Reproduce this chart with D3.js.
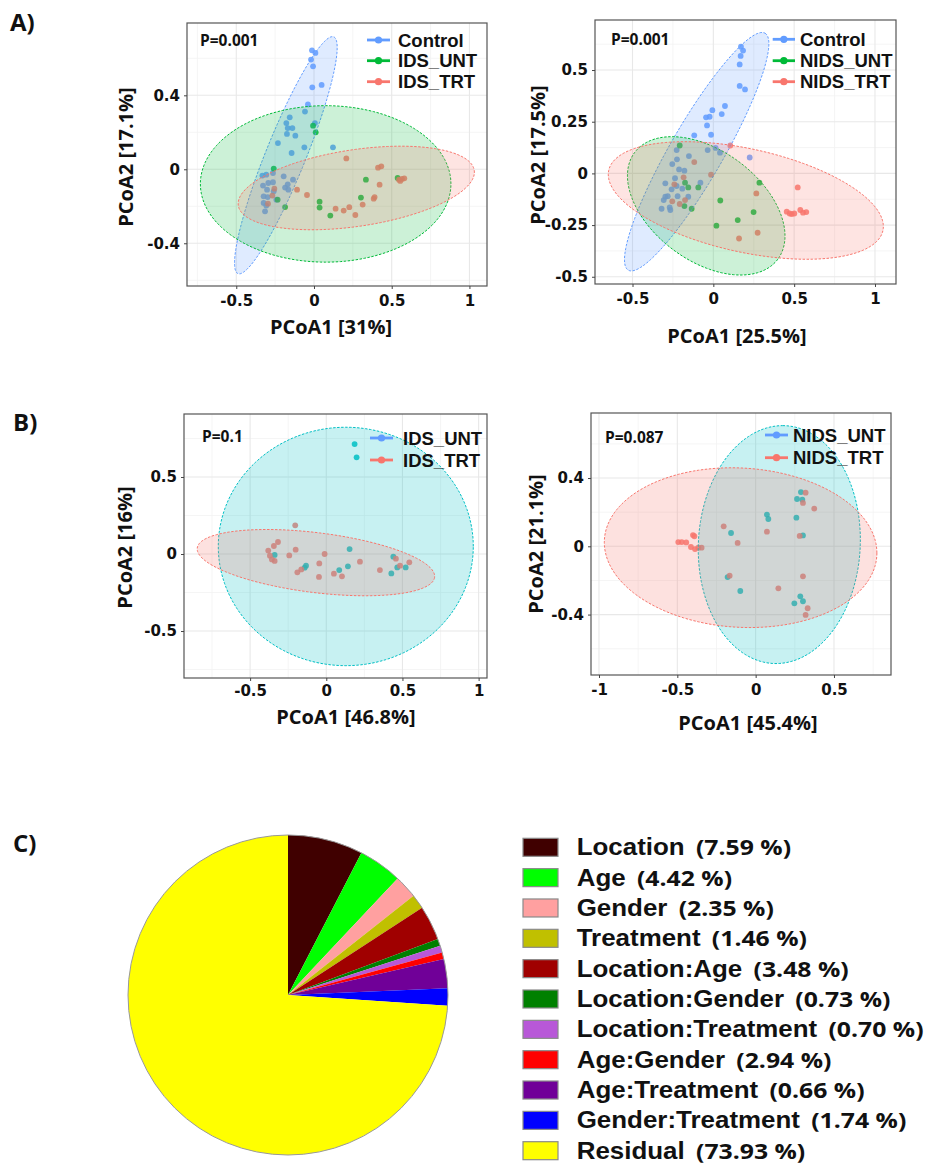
<!DOCTYPE html>
<html><head><meta charset="utf-8">
<script src="https://cdn.jsdelivr.net/npm/d3@7"></script>
<style>body{margin:0;background:#fff} svg{display:block}</style>
</head><body>
<svg id="fig" width="931" height="1167"></svg>
<script>
// ================= DATA =================
// Panel A left : Control vs IDS_UNT vs IDS_TRT
const aLeftGroups = ["Control", "IDS_UNT", "IDS_TRT"];
const aLeftControl = [[-0.013,0.643],[0.009,0.629],[-0.019,0.593],[-0.006,0.557],[-0.011,0.443],[0.049,0.456],[-0.039,0.351],[-0.058,0.312],[0.006,0.250],[-0.156,0.281],[-0.178,0.250],[-0.139,0.223],[-0.169,0.223],[-0.174,0.191],[-0.120,0.182],[-0.232,0.142],[-0.062,0.119],[-0.144,0.088],[0.122,0.119],[-0.332,-0.034],[-0.307,-0.029],[-0.264,-0.020],[-0.195,-0.038],[-0.135,-0.056],[-0.328,-0.088],[-0.294,-0.074],[-0.302,-0.110],[-0.264,-0.070],[-0.186,-0.099],[-0.169,-0.081],[-0.324,-0.146],[-0.298,-0.150],[-0.324,-0.182],[-0.307,-0.196],[-0.315,-0.227],[-0.242,-0.164],[-0.165,-0.110],[-0.259,-0.119]];
const aLeftUNT = [[-0.006,0.236],[0.011,0.200],[-0.259,0.004],[-0.234,-0.164],[-0.186,-0.204],[0.334,-0.056],[0.538,-0.047],[0.302,-0.153],[0.036,-0.175],[0.036,-0.207],[0.105,-0.250]];
const aLeftTRT = [[0.208,0.059],[0.412,0.009],[0.433,0.016],[0.422,-0.083],[0.547,-0.056],[0.566,-0.052],[0.581,-0.049],[0.555,-0.063],[-0.255,-0.105],[-0.268,-0.142],[-0.109,-0.110],[-0.045,-0.139],[-0.296,-0.186],[0.139,-0.213],[0.191,-0.223],[0.227,-0.205],[0.266,-0.247],[0.313,-0.191],[0.384,-0.159],[0.390,-0.150]];
// ellipses: centre c, conjugate semi-axis vectors u, v (data units)
const aLeftEllipses = [
  {group:"Control", c:[-0.181,0.076], u:[0.308,0.640], v:[0.119,-0.041]},
  {group:"IDS_UNT", c:[0.075,-0.079], u:[0.806,0], v:[0,0.423]},
  {group:"IDS_TRT", c:[0.272,-0.101], u:[0.759,0.095], v:[0.036,-0.205]}
];
const aLeftXTicks = [-0.5, 0, 0.5, 1];
const aLeftYTicks = [-0.4, 0, 0.4];

// Panel A right : Control vs NIDS_UNT vs NIDS_TRT
const aRightGroups = ["Control", "NIDS_UNT", "NIDS_TRT"];
const aRightControl = [[0.171,0.613],[0.184,0.594],[0.169,0.568],[0.163,0.527],[0.163,0.423],[0.196,0.406],[0.072,0.326],[-0.006,0.306],[0.052,0.287],[-0.045,0.271],[-0.023,0.274],[-0.039,0.232],[-0.014,0.187],[-0.118,0.184],[-0.035,0.113],[0.014,0.123],[0.041,0.100],[-0.151,0.084],[-0.227,0.113],[-0.225,0.068],[-0.254,0.045],[-0.212,0.019],[-0.179,0.013],[-0.237,-0.023],[-0.297,-0.048],[-0.227,-0.061],[-0.258,-0.077],[-0.192,-0.074],[-0.080,-0.045],[-0.155,-0.113],[-0.297,-0.113],[-0.307,-0.129],[-0.282,-0.110],[-0.320,-0.171],[-0.270,-0.165],[-0.266,-0.177],[-0.221,-0.110],[0.225,0.077]];
const aRightUNT = [[-0.208,0.135],[-0.175,-0.045],[-0.155,-0.068],[-0.093,-0.068],[-0.179,-0.158],[-0.134,-0.171],[0.043,-0.131],[0.285,-0.045],[0.249,-0.187],[0.151,-0.226],[0.019,-0.253]];
const aRightTRT = [[0.105,0.135],[-0.118,0.055],[-0.014,-0.006],[-0.184,-0.019],[-0.241,-0.053],[-0.254,-0.135],[-0.208,-0.148],[-0.175,-0.129],[0.266,-0.097],[0.274,-0.287],[0.159,-0.315],[0.522,-0.068],[0.454,-0.185],[0.472,-0.194],[0.501,-0.194],[0.538,-0.177],[0.555,-0.190],[0.575,-0.187],[0.485,-0.197]];
const aRightEllipses = [
  {group:"Control", c:[-0.103,0.105], u:[0.423,0.573], v:[0.143,-0.065]},
  {group:"NIDS_UNT", c:[-0.044,-0.157], u:[0.443,-0.258], v:[-0.203,-0.213]},
  {group:"NIDS_TRT", c:[0.201,-0.131], u:[0.848,-0.146], v:[-0.069,-0.244]}
];
const aRightXTicks = [-0.5, 0, 0.5, 1];
const aRightYTicks = [-0.5, -0.25, 0, 0.25, 0.5];

// Panel B left : IDS_UNT vs IDS_TRT
const bLeftGroups = ["IDS_UNT", "IDS_TRT"];
const bLeftUNT = [[0.186,0.714],[0.199,0.628],[-0.339,-0.006],[-0.133,-0.076],[-0.142,-0.089],[0.153,0.032],[0.142,-0.080],[0.085,-0.104],[0.440,-0.017],[0.466,-0.087],[0.521,-0.087],[0.427,-0.126]];
const bLeftTRT = [[-0.204,0.186],[-0.317,0.078],[-0.344,0.052],[-0.381,0.022],[-0.370,-0.011],[-0.357,-0.035],[-0.339,-0.045],[-0.243,-0.009],[-0.201,0.028],[-0.011,0.000],[-0.046,-0.061],[-0.164,-0.100],[-0.190,-0.119],[-0.048,-0.149],[0.050,-0.128],[0.103,-0.145],[0.221,-0.050],[0.352,-0.104],[0.457,-0.030],[0.484,-0.076],[0.545,-0.054]];
const bLeftEllipses = [
  {group:"IDS_UNT", c:[0.128,0.049], u:[0.837,0], v:[0,0.774]},
  {group:"IDS_TRT", c:[-0.068,-0.056], u:[0.779,-0.095], v:[-0.024,-0.193]}
];
const bLeftXTicks = [-0.5, 0, 0.5, 1];
const bLeftYTicks = [-0.5, 0, 0.5];

// Panel B right : NIDS_UNT vs NIDS_TRT
const bRightGroups = ["NIDS_UNT", "NIDS_TRT"];
const bRightUNT = [[0.289,0.318],[0.264,0.277],[0.298,0.273],[0.072,0.186],[0.081,0.160],[0.260,0.168],[-0.157,0.078],[0.302,0.064],[-0.179,-0.180],[-0.098,-0.262],[0.285,-0.293],[0.302,-0.322],[0.247,-0.334]];
const bRightTRT = [[0.319,0.314],[0.302,0.254],[0.374,0.221],[-0.204,0.117],[0.072,0.086],[0.281,0.061],[-0.115,0.020],[-0.400,0.066],[-0.391,0.059],[-0.494,0.025],[-0.472,0.025],[-0.443,0.023],[-0.413,-0.004],[-0.387,-0.016],[-0.366,-0.008],[-0.345,-0.008],[-0.166,-0.172],[0.302,-0.176],[0.145,-0.246],[0.332,-0.363],[0.319,-0.402]];
const bRightEllipses = [
  {group:"NIDS_UNT", c:[0.151,0.010], u:[0.021,0.697], v:[0.517,0]},
  {group:"NIDS_TRT", c:[-0.096,-0.008], u:[0.870,-0.031], v:[0,0.467]}
];
const bRightXTicks = [-1, -0.5, 0, 0.5];
const bRightYTicks = [-0.4, 0, 0.4];

// Panel C : variance partition pie
const pieLabels = ["Location","Age","Gender","Treatment","Location:Age","Location:Gender","Location:Treatment","Age:Gender","Age:Treatment","Gender:Treatment","Residual"];
const legendPercents = ["(7.59 %)","(4.42 %)","(2.35 %)","(1.46 %)","(3.48 %)","(0.73 %)","(0.70 %)","(2.94 %)","(0.66 %)","(1.74 %)","(73.93 %)"];
const pieShares = [7.59, 4.42, 2.35, 1.46, 3.48, 0.73, 0.70, 0.66, 2.94, 1.74, 73.93]; // slice sizes as drawn
const pieColors = ["#400000","#00ff00","#ffa0a0","#c0c000","#a00000","#008000","#b858d8","#ff0000","#700098","#0000ff","#ffff00"];

// ================= STYLE =================
const COL = {blue:"#619CFF", green:"#00BA38", red:"#F8766D", teal:"#00BFC4"};
const TXT = "#111";
const svg = d3.select("#fig");
const fmt = d => String(d);

function ellipsePath(e, x, y) {
  const n = 160;
  const pts = d3.range(n + 1).map(i => {
    const t = 2 * Math.PI * i / n;
    return [x(e.c[0] + e.u[0] * Math.cos(t) + e.v[0] * Math.sin(t)),
            y(e.c[1] + e.u[1] * Math.cos(t) + e.v[1] * Math.sin(t))];
  });
  return d3.line()(pts);
}

let clipId = 0;
function drawScatter(L) {
  const g = svg.append("g");
  const x = d3.scaleLinear().domain(L.xDomain).range([L.left, L.right]);
  const y = d3.scaleLinear().domain(L.yDomain).range([L.bottom, L.top]);
  const id = "clip" + (clipId++);
  g.append("clipPath").attr("id", id).append("rect")
    .attr("x", L.left).attr("y", L.top).attr("width", L.right - L.left).attr("height", L.bottom - L.top);
  const plot = g.append("g").attr("clip-path", `url(#${id})`);

  // grid
  const minor = (ticks, dom) => {
    const s = ticks[1] - ticks[0], out = [];
    for (let v = ticks[0] - s / 2; v <= dom[1]; v += s) if (v >= dom[0]) out.push(v);
    return out;
  };
  plot.selectAll(".mx").data(minor(L.xTicks, L.xDomain)).join("line")
    .attr("x1", d => x(d)).attr("x2", d => x(d)).attr("y1", L.top).attr("y2", L.bottom)
    .attr("stroke", "#f3f3f3").attr("stroke-width", 0.8);
  plot.selectAll(".my").data(minor(L.yTicks, L.yDomain)).join("line")
    .attr("y1", d => y(d)).attr("y2", d => y(d)).attr("x1", L.left).attr("x2", L.right)
    .attr("stroke", "#f3f3f3").attr("stroke-width", 0.8);
  plot.selectAll(".gx").data(L.xTicks).join("line")
    .attr("x1", d => x(d)).attr("x2", d => x(d)).attr("y1", L.top).attr("y2", L.bottom)
    .attr("stroke", "#e8e8e8").attr("stroke-width", 1.1);
  plot.selectAll(".gy").data(L.yTicks).join("line")
    .attr("y1", d => y(d)).attr("y2", d => y(d)).attr("x1", L.left).attr("x2", L.right)
    .attr("stroke", "#e8e8e8").attr("stroke-width", 1.1);

  // points
  L.series.forEach(s => {
    plot.append("g").selectAll("circle").data(s.values).join("circle")
      .attr("cx", d => x(d[0])).attr("cy", d => y(d[1])).attr("r", 2.9)
      .attr("fill", s.color).attr("fill-opacity", 0.85);
  });
  // ellipses (drawn over the points)
  L.ellipses.forEach(e => {
    const c = L.series.find(s => s.name === e.group).color;
    plot.append("path").attr("d", ellipsePath(e, x, y))
      .attr("fill", c).attr("fill-opacity", L.ellipseAlpha)
      .attr("stroke", c).attr("stroke-width", 1).attr("stroke-dasharray", "2.5,1.5");
  });

  // frame
  g.append("rect").attr("x", L.left).attr("y", L.top).attr("width", L.right - L.left).attr("height", L.bottom - L.top)
    .attr("fill", "none").attr("stroke", "#555").attr("stroke-width", 1.2);

  // axes
  const styleAxis = a => {
    a.select(".domain").remove();
    a.selectAll("line").attr("stroke", "#444");
    a.selectAll("text").attr("font-family", "DejaVu Sans").attr("font-weight", "bold")
      .attr("font-size", 15).attr("fill", TXT);
  };
  g.append("g").attr("transform", `translate(0,${L.bottom})`)
    .call(d3.axisBottom(x).tickValues(L.xTicks).tickSize(3).tickPadding(L.xPad).tickFormat(fmt)).call(styleAxis);
  g.append("g").attr("transform", `translate(${L.left},0)`)
    .call(d3.axisLeft(y).tickValues(L.yTicks).tickSize(3).tickPadding(4).tickFormat(fmt)).call(styleAxis);

  // titles
  g.append("text").attr("x", L.xTitle[0]).attr("y", L.xTitle[1]).attr("text-anchor", "middle")
    .attr("font-family", "Open Sans").attr("font-weight", "bold").attr("font-size", 20).attr("fill", TXT).text(L.xLabel);
  g.append("text").attr("transform", `translate(${L.yTitle[0]},${L.yTitle[1]}) rotate(-90)`).attr("text-anchor", "middle")
    .attr("font-family", "Open Sans").attr("font-weight", "bold").attr("font-size", 20).attr("fill", TXT).text(L.yLabel);
  g.append("text").attr("x", L.pPos[0]).attr("y", L.pPos[1])
    .attr("font-family", "Open Sans").attr("font-weight", "bold").attr("font-size", 15.5).attr("fill", TXT).text(L.pText);

  // legend
  const lg = g.append("g");
  L.legend.items.forEach((it, i) => {
    const yy = L.legend.y[i];
    lg.append("line").attr("x1", L.legend.x0).attr("x2", L.legend.x1).attr("y1", yy).attr("y2", yy)
      .attr("stroke", it.color).attr("stroke-width", 2.8);
    lg.append("circle").attr("cx", (L.legend.x0 + L.legend.x1) / 2).attr("cy", yy).attr("r", 3.6).attr("fill", it.color);
    lg.append("text").attr("x", L.legend.tx).attr("y", yy + 6.5)
      .attr("font-family", "Liberation Sans").attr("font-weight", "bold").attr("font-size", 18.5).attr("fill", TXT).text(it.name);
  });
}

// ---- Panel A left
drawScatter({
  left:187, right:487, top:23, bottom:286, xDomain:[-0.817,1.113], yDomain:[-0.631,0.791],
  xTicks:aLeftXTicks, yTicks:aLeftYTicks, xPad:6, ellipseAlpha:0.2,
  series:[{name:aLeftGroups[0], values:aLeftControl, color:COL.blue},
          {name:aLeftGroups[1], values:aLeftUNT, color:COL.green},
          {name:aLeftGroups[2], values:aLeftTRT, color:COL.red}],
  ellipses:aLeftEllipses,
  xLabel:"PCoA1 [31%]", xTitle:[331,334], yLabel:"PCoA2 [17.1%]", yTitle:[133,157],
  pText:"P=0.001", pPos:[200,46],
  legend:{x0:367, x1:390, tx:398, y:[40,60.7,81.7],
          items:[{name:aLeftGroups[0], color:COL.blue},{name:aLeftGroups[1], color:COL.green},{name:aLeftGroups[2], color:COL.red}]}
});
// ---- Panel A right
drawScatter({
  left:595, right:896, top:20, bottom:284, xDomain:[-0.732,1.130], yDomain:[-0.535,0.742],
  xTicks:aRightXTicks, yTicks:aRightYTicks, xPad:6, ellipseAlpha:0.2,
  series:[{name:aRightGroups[0], values:aRightControl, color:COL.blue},
          {name:aRightGroups[1], values:aRightUNT, color:COL.green},
          {name:aRightGroups[2], values:aRightTRT, color:COL.red}],
  ellipses:aRightEllipses,
  xLabel:"PCoA1 [25.5%]", xTitle:[737,342.5], yLabel:"PCoA2 [17.5%]", yTitle:[545,155],
  pText:"P=0.001", pPos:[611,45],
  legend:{x0:772.7, x1:795, tx:800, y:[39.3,60.7,81.7],
          items:[{name:aRightGroups[0], color:COL.blue},{name:aRightGroups[1], color:COL.green},{name:aRightGroups[2], color:COL.red}]}
});
// ---- Panel B left
drawScatter({
  left:184, right:487, top:414, bottom:678, xDomain:[-0.934,1.055], yDomain:[-0.805,0.909],
  xTicks:bLeftXTicks, yTicks:bLeftYTicks, xPad:4, ellipseAlpha:0.22,
  series:[{name:bLeftGroups[0], values:bLeftUNT, color:COL.teal},
          {name:bLeftGroups[1], values:bLeftTRT, color:COL.red}],
  ellipses:bLeftEllipses,
  xLabel:"PCoA1 [46.8%]", xTitle:[346,723.5], yLabel:"PCoA2 [16%]", yTitle:[131.5,547.5],
  pText:"P=0.1", pPos:[202,441.5],
  legend:{x0:370, x1:393, tx:403, y:[438,460],
          items:[{name:bLeftGroups[0], color:COL.blue},{name:bLeftGroups[1], color:COL.red}]}
});
// ---- Panel B right
drawScatter({
  left:591, right:891, top:413, bottom:675, xDomain:[-1.051,0.864], yDomain:[-0.754,0.781],
  xTicks:bRightXTicks, yTicks:bRightYTicks, xPad:6, ellipseAlpha:0.22,
  series:[{name:bRightGroups[0], values:bRightUNT, color:COL.teal},
          {name:bRightGroups[1], values:bRightTRT, color:COL.red}],
  ellipses:bRightEllipses,
  xLabel:"PCoA1 [45.4%]", xTitle:[748,729.5], yLabel:"PCoA2 [21.1%]", yTitle:[543,544],
  pText:"P=0.087", pPos:[605,442.7],
  legend:{x0:765, x1:788, tx:793, y:[435,457.7],
          items:[{name:bRightGroups[0], color:COL.blue},{name:bRightGroups[1], color:COL.red}]}
});

// ---- Panel labels
[["A)",10,31],["B)",13,431],["C)",13,852]].forEach(([t,px,py]) =>
  svg.append("text").attr("x",px).attr("y",py).attr("font-family","Open Sans").attr("font-weight","bold")
    .attr("font-size",24).attr("fill",TXT).text(t));

// ---- Panel C pie
const pieG = svg.append("g").attr("transform","translate(288,995)");
const arcs = d3.pie().sort(null).value(d => d)(pieShares);
const arc = d3.arc().innerRadius(0).outerRadius(160);
pieG.selectAll("path").data(arcs).join("path").attr("d", arc).attr("fill", (d,i) => pieColors[i]);
pieG.append("circle").attr("r",160).attr("fill","none").attr("stroke","#999").attr("stroke-width",1);

// ---- Panel C legend
const rowY = i => 847.3 + i * 30.34;
const lgC = svg.append("g");
pieLabels.forEach((lab, i) => {
  lgC.append("rect").attr("x",523).attr("y",rowY(i)-9).attr("width",35).attr("height",18)
    .attr("fill",pieColors[i]).attr("stroke","#8a8a8a").attr("stroke-width",1.2);
  const t = lgC.append("g").attr("transform",`translate(576.7,${rowY(i)+8}) scale(1.127,1)`)
    .append("text").attr("x",0).attr("y",0).attr("fill",TXT);
  t.append("tspan").attr("font-family","Liberation Sans").attr("font-weight","bold").attr("font-size",23).text(lab);
  t.append("tspan").attr("dx",10).attr("font-family","Open Sans").attr("font-weight","bold").attr("font-size",22).text(legendPercents[i]);
});
</script>
</body></html>
